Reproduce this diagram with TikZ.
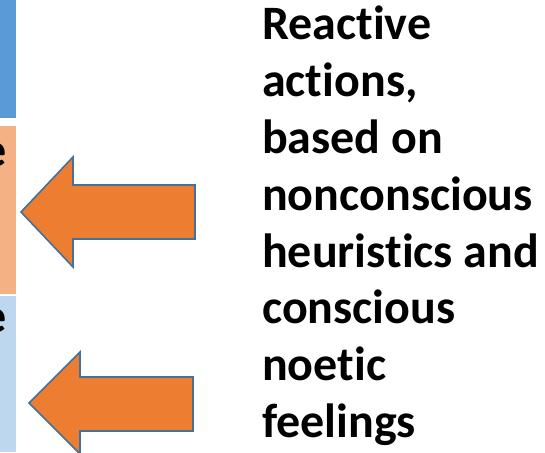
\documentclass[tikz,border=0pt]{standalone}
\usepackage{fontspec}
\setmainfont[Ligatures={NoCommon}]{Carlito}

\definecolor{stripblue}{HTML}{5B9BD5}
\definecolor{strippeach}{HTML}{F4B183}
\definecolor{striplight}{HTML}{BDD7EE}
\definecolor{arrowfill}{HTML}{ED7D31}
\definecolor{arrowline}{HTML}{41719C}

\begin{document}
\begin{tikzpicture}[x=1pt, y=1pt,
    bigarrow/.style={fill=arrowfill, draw=arrowline, line width=1.6pt, line join=miter},
    bigtext/.style={inner sep=0, font=\fontsize{48}{56.8}\selectfont\bfseries}]
      \useasboundingbox (0, 0) rectangle (545, 452);
      % strips on the left edge
      \fill[stripblue] (0, 334) rectangle (16, 452);
      \fill[strippeach] (0, 158) rectangle (16, 326);
      \fill[striplight] (0, 0) rectangle (16, 156);
      \node[bigtext, anchor=base east] (e1) at (7, 285) {e};
      \node[bigtext, anchor=base east] (e2) at (7, 119) {e};
      % arrows
      \draw[bigarrow] (195, 267) -- (73, 267) -- (73, 295) -- (21, 240)
        -- (73, 185) -- (73, 213) -- (195, 213) -- cycle;
      \draw[bigarrow] (193, 75) -- (80, 75) -- (80, 100) -- (29, 49)
        -- (80, -2) -- (80, 21) -- (193, 21) -- cycle;
      \node[bigtext, anchor=north west, align=left] (txt) at (262, 446)
        {Reactive\\actions,\\based on\\nonconscious\\heuristics and\\conscious\\noetic\\feelings};
    \end{tikzpicture}
\end{document}
